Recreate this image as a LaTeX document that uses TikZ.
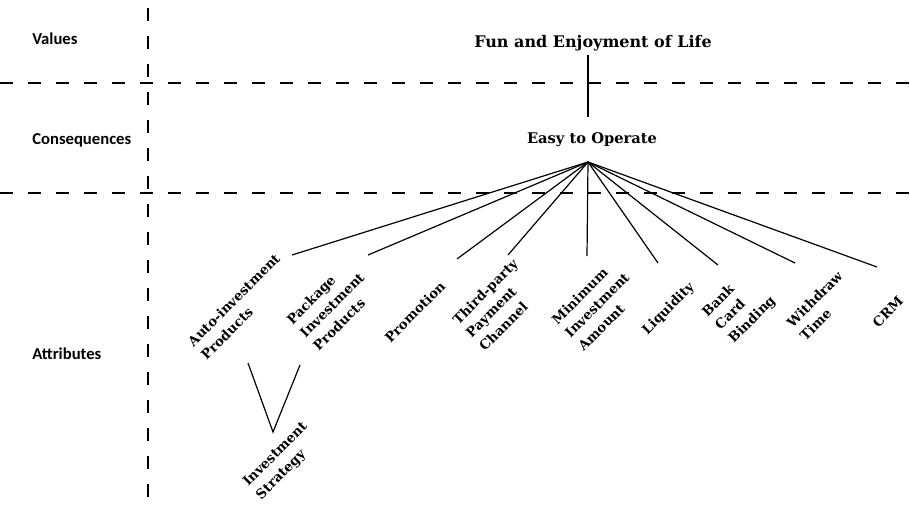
\documentclass[tikz,border=0pt]{standalone}
\usepackage{fontspec}
\setmainfont{DejaVu Serif}
\newfontfamily\lvlfont{Carlito}
\begin{document}
\begin{tikzpicture}[x=0.75pt,y=-0.75pt,
  sep/.style={dash pattern=on 9.5pt off 11.5pt,line width=1.1pt},
  link/.style={line width=0.9pt},
  lvl/.style={font=\lvlfont\bfseries\fontsize{12.5}{14}\selectfont,anchor=base west,inner sep=0pt},
  head/.style={font=\bfseries\fontsize{12}{14}\selectfont,anchor=base},
  leaf/.style={font=\bfseries\fontsize{10}{14}\selectfont,rotate=45,align=left,anchor=north west,inner sep=0pt}]
  \useasboundingbox (0,0) rectangle (910,511);
  % level separators
  \draw[sep] (148,8) -- (148,511);
  \draw[sep] (0,83) -- (910,83);
  \draw[sep] (0,193) -- (910,193);
  \node[lvl] (vals) at (32,44) {Values};
  \node[lvl] (cons) at (32,144) {Consequences};
  \node[lvl] (attr) at (32,359) {Attributes};
  % ladder
  \node[head] (fun) at (593,47) {Fun and Enjoyment of Life};
  \node[head,font=\bfseries\fontsize{11}{13}\selectfont] (ease) at (592,143) {Easy to Operate};
  \coordinate (hub) at (588,162);
  \draw[link,shorten >=8pt] (fun.south -| hub) -- (ease.north -| hub);
  \node[leaf] (auto) at (186,340) {Auto-investment\\Products};
  \node[leaf] (pack) at (285,318) {Package\\Investment\\Products};
  \node[leaf] (promo) at (383,336) {Promotion};
  \node[leaf] (third) at (451,318) {Third-party\\Payment\\Channel};
  \node[leaf] (mini) at (550,318) {Minimum\\Investment\\Amount};
  \node[leaf] (liq) at (640,328) {Liquidity};
  \node[leaf] (bank) at (700,310) {Bank\\Card\\Binding};
  \node[leaf] (withdraw) at (785,321) {Withdraw\\Time};
  \node[leaf] (crm) at (871,321) {CRM};
  \node[leaf] (strat) at (241,480) {Investment\\Strategy};
  \coordinate (auto-end) at (292,255);
  \coordinate (pack-end) at (368,255);
  \coordinate (promo-end) at (457,259);
  \coordinate (third-end) at (508,255);
  \coordinate (mini-end) at (587,256);
  \coordinate (liq-end) at (658,263);
  \coordinate (bank-end) at (718,265);
  \coordinate (withdraw-end) at (795,263);
  \coordinate (crm-end) at (877,267);
  \foreach \n in {auto,pack,promo,third,mini,liq,bank,withdraw,crm}
    \draw[link] (hub) -- (\n-end);
  \coordinate (v-l) at (248,363);
  \coordinate (v-b) at (273,432);
  \coordinate (v-r) at (300,365);
  \draw[link] (v-l) -- (v-b) -- (v-r);
\end{tikzpicture}
\end{document}
